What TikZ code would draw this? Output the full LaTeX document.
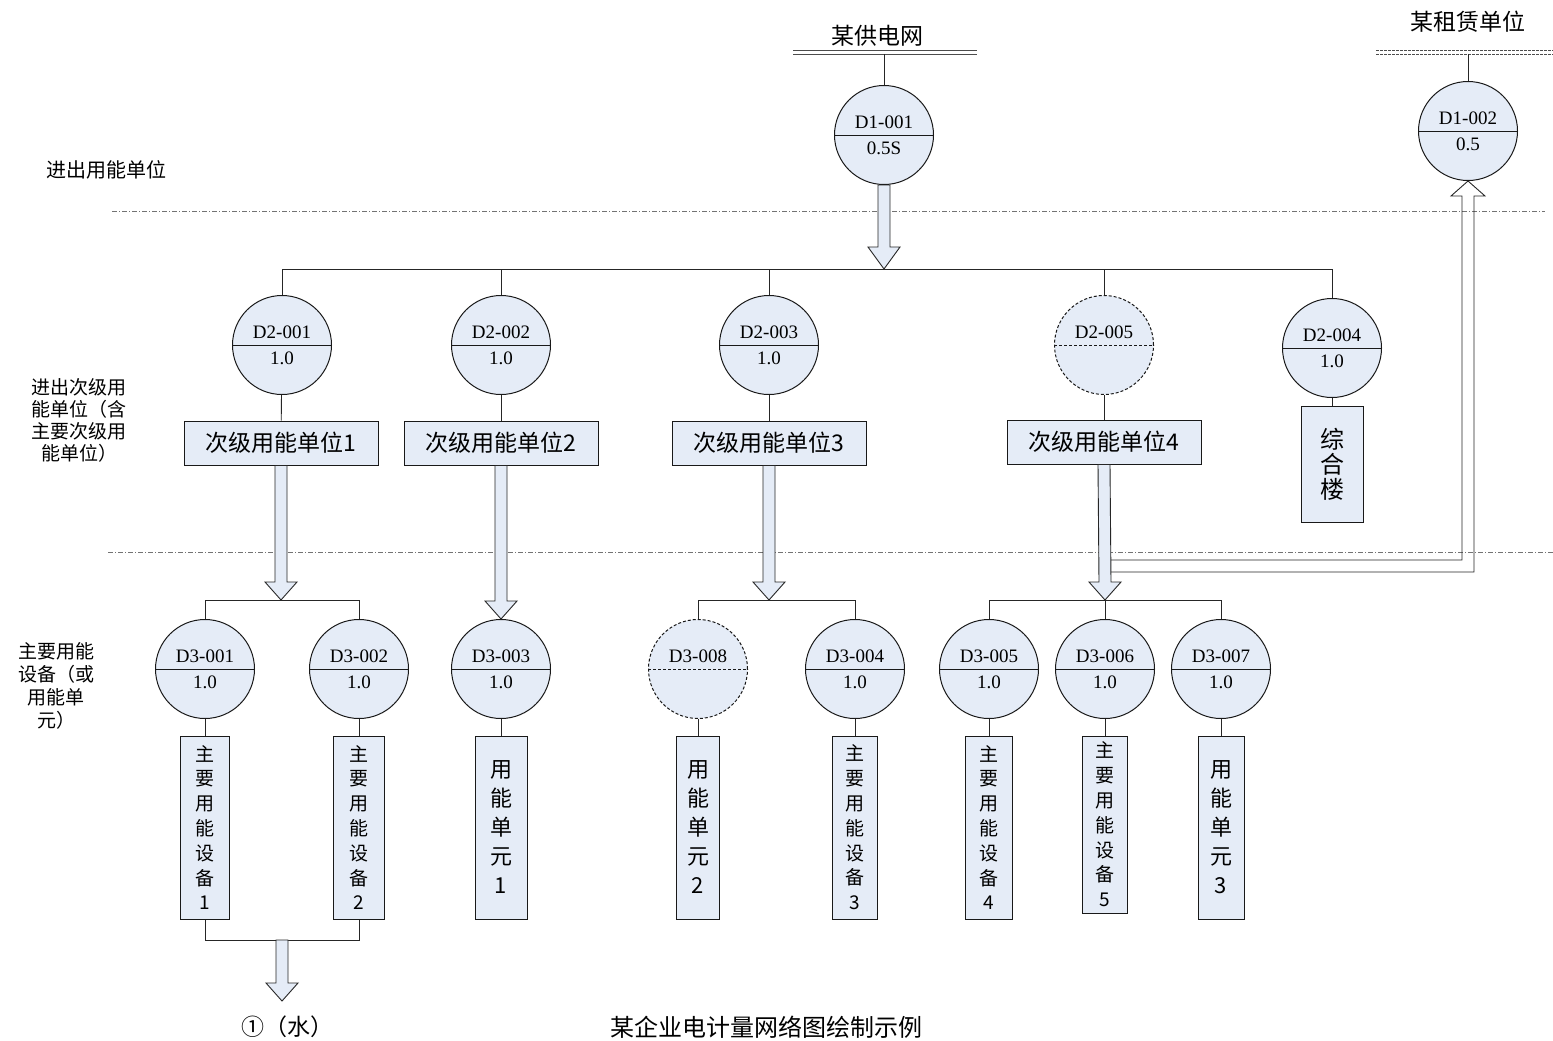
\documentclass[tikz,border=0pt]{standalone}
\usepackage{fontspec}
\setmainfont{Liberation Serif}
\newfontfamily\cjk{Noto Sans CJK SC}
\usetikzlibrary{calc}
\definecolor{fillblue}{RGB}{229,236,247}
\newcommand\blockarrow[3][18]{%
  \filldraw[barrow] ($(#2)+(-6,0)$) -- ($(#3)+(-6,-#1)$) -- ($(#3)+(-16,-#1)$) -- (#3)
    -- ($(#3)+(16,-#1)$) -- ($(#3)+(6,-#1)$) -- ($(#2)+(6,0)$) -- cycle;}
\newcommand\mymeter[5][meter]{%
  \node[#1] (#2) at (#3) {};
  \draw[line width=1pt, draw=black!90, #1line] (#2.west) -- (#2.east);
  \node[mlab] (#2t) at ($(#2)+(0,-12.5)$) {#4};
  \node[mlab] (#2b) at ($(#2)+(0,13)$) {#5};}
\begin{document}
\begin{tikzpicture}[x=1pt,y=-1pt,
  conn/.style={draw=black!85, line width=0.9pt},
  meter/.style={circle, draw=black!90, line width=1pt, fill=fillblue, minimum size=99pt, inner sep=0pt},
  dmeter/.style={meter, dash pattern=on 3pt off 2pt},
  meterline/.style={},
  dmeterline/.style={dash pattern=on 3pt off 2pt},
  mlab/.style={font=\fontsize{19}{19}\selectfont, inner sep=0pt},
  hbox/.style={draw=black!90, line width=1pt, fill=fillblue, minimum width=194pt, minimum height=44pt, inner sep=0pt, font=\cjk\fontsize{23}{23}\selectfont},
  vbox/.style={draw=black!90, line width=1pt, fill=fillblue, minimum height=183pt, inner sep=0pt, align=center},
  sfont/.style={font=\cjk\fontsize{19}{24.8}\selectfont},
  lfont/.style={font=\cjk\fontsize{22}{29}\selectfont},
  barrow/.style={draw=black!85, line width=0.9pt, fill=fillblue},
  dashdot/.style={draw=black!55, line width=0.8pt, dash pattern=on 5pt off 2pt on 1pt off 2pt},
  lab/.style={font=\cjk\fontsize{19}{22}\selectfont, align=center, inner sep=0pt},
  title/.style={font=\cjk\fontsize{23}{23}\selectfont, inner sep=0pt},
]
\useasboundingbox (0,0) rectangle (1553,1041);

% level separators
\draw[dashdot] (112,211) -- (1545,211);
\draw[dashdot] (108,552) -- (1553,552);

% left level labels
\node[lab, font=\cjk\fontsize{20}{22}\selectfont] (lv1) at (106,170) {进出用能单位};
\node[lab] (lv2) at (79,420) {进出次级用\\能单位（含\\主要次级用\\能单位）};
\node[lab, font=\cjk\fontsize{19}{23}\selectfont] (lv3) at (56,686) {主要用能\\设备（或\\用能单\\元）};

% supply grid and leasing unit
\node[title] (grid) at (877,36) {某供电网};
\draw[draw=black!70, line width=0.9pt] (793,50) -- (977,50);
\draw[draw=black!70, line width=0.9pt] (793,54) -- (977,54);
\node[title] (lease) at (1468,22) {某租赁单位};
\draw[draw=black!70, line width=0.9pt, dash pattern=on 3pt off 1pt] (1376,50) -- (1553,50);
\draw[draw=black!70, line width=0.9pt, dash pattern=on 3pt off 1pt] (1376,54) -- (1553,54);
\coordinate (bus1) at (884,54);
\coordinate (bus2) at (1468,54);

% level 1 meters
\mymeter{m11}{884,135}{D1-001}{0.5S}
\mymeter{m12}{1468,131}{D1-002}{0.5}
\draw[conn] (bus1) -- (m11);
\draw[conn] (bus2) -- (m12);

% level 2 meters
\mymeter{m21}{282,345}{D2-001}{1.0}
\mymeter{m22}{501,345}{D2-002}{1.0}
\mymeter{m23}{769,345}{D2-003}{1.0}
\mymeter[dmeter]{m25}{1104,345}{D2-005}{}
\mymeter{m24}{1332,348}{D2-004}{1.0}

\coordinate (br) at (884,269);
\draw[conn] (m21 |- br) -- (m24 |- br);
\foreach \m in {m21,m22,m23,m25,m24} \draw[conn] (\m |- br) -- (\m);
\blockarrow[22]{m11.south}{br}

% level 2 units
\node[hbox] (u1) at (281,443) {次级用能单位1};
\node[hbox] (u2) at (501,443) {次级用能单位2};
\node[hbox] (u3) at (769,443) {次级用能单位3};
\node[hbox] (u4) at (1104,442) {次级用能单位4};
\node[vbox, minimum width=62pt, minimum height=116pt, font=\cjk\fontsize{24}{25}\selectfont] (zh) at (1332,464) {综\\合\\楼};
\draw[conn] (m21) -- (u1);
\draw[conn] (m22) -- (u2);
\draw[conn] (m23) -- (u3);
\draw[conn] (m25) -- (u4);
\draw[conn] (m24) -- (zh);

% level 3 meters
\mymeter{m31}{205,669}{D3-001}{1.0}
\mymeter{m32}{359,669}{D3-002}{1.0}
\mymeter{m33}{501,669}{D3-003}{1.0}
\mymeter[dmeter]{m38}{698,669}{D3-008}{}
\mymeter{m34}{855,669}{D3-004}{1.0}
\mymeter{m35}{989,669}{D3-005}{1.0}
\mymeter{m36}{1105,669}{D3-006}{1.0}
\mymeter{m37}{1221,669}{D3-007}{1.0}

\coordinate (t1) at (281,600);
\coordinate (t3) at (769,600);
\coordinate (t4) at (1105,600);
\draw[conn] (m31 |- t1) -- (m32 |- t1);
\draw[conn] (m38 |- t3) -- (m34 |- t3);
\draw[conn] (m35 |- t4) -- (m37 |- t4);
\foreach \m in {m31,m32} \draw[conn] (\m |- t1) -- (\m);
\foreach \m in {m38,m34} \draw[conn] (\m |- t3) -- (\m);
\foreach \m in {m35,m36,m37} \draw[conn] (\m |- t4) -- (\m);

% link to the leasing unit (hollow arrow)
\coordinate (hin) at (1111,560);
\coordinate (hout) at (1111,572);
\draw[conn] (hin) -| ($(m12.south)+(-6,15)$) -- ($(m12.south)+(-17,15)$) -- (m12.south)
  -- ($(m12.south)+(17,15)$) -- ($(m12.south)+(6,15)$) |- (hout);

% block arrows from units
\blockarrow{u1.south}{t1}
\blockarrow{u2.south}{m33.north}
\blockarrow{u3.south}{t3}
\blockarrow{u4.south}{t4}

% level 3 equipment
\node[vbox, sfont, minimum width=49pt] (e1) at (205,827.5) {主\\要\\用\\能\\设\\备\\1};
\node[vbox, sfont, minimum width=51pt] (e2) at (359,827.5) {主\\要\\用\\能\\设\\备\\2};
\node[vbox, lfont, minimum width=52pt] (e3) at (501,827.5) {用\\能\\单\\元\\1};
\node[vbox, lfont, minimum width=43pt] (e8) at (698,827.5) {用\\能\\单\\元\\2};
\node[vbox, sfont, minimum width=45pt] (e4) at (855,827.5) {主\\要\\用\\能\\设\\备\\3};
\node[vbox, sfont, minimum width=47pt] (e5) at (989,827.5) {主\\要\\用\\能\\设\\备\\4};
\node[vbox, sfont, minimum width=45pt, minimum height=177pt] (e6) at (1105,824.5) {主\\要\\用\\能\\设\\备\\5};
\node[vbox, lfont, minimum width=46pt] (e7) at (1221,827.5) {用\\能\\单\\元\\3};
\foreach \m/\e in {m31/e1,m32/e2,m33/e3,m38/e8,m34/e4,m35/e5,m36/e6,m37/e7}
  \draw[conn] (\m) -- (\e);

% water output
\coordinate (t5) at (282,940);
\coordinate (t6) at (282,1001);
\draw[conn] (e1.south) -- (e1.south |- t5) -- (e2.south |- t5) -- (e2.south);
\blockarrow{t5}{t6}
\node[title, font=\cjk\fontsize{23}{23}\selectfont] (water) at (287,1027) {①（水）};

% caption
\node[title, font=\cjk\fontsize{24}{24}\selectfont] (cap) at (766,1027) {某企业电计量网络图绘制示例};
\end{tikzpicture}
\end{document}
